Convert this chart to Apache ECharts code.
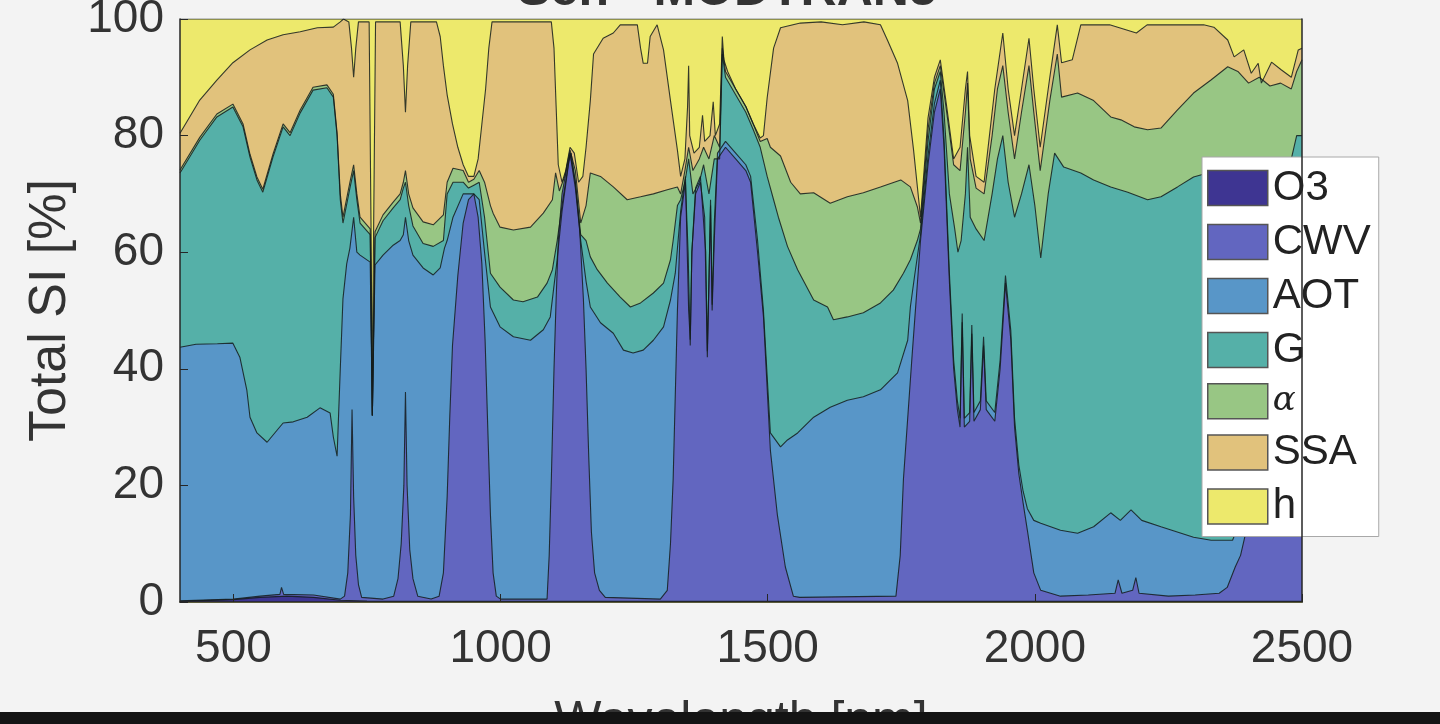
<!DOCTYPE html>
<html>
<head>
<meta charset="utf-8">
<script src="https://cdn.jsdelivr.net/npm/echarts@6/dist/echarts.min.js"></script>
<style>
  html, body { margin: 0; padding: 0; background: #f3f3f3; }
  #chart { width: 1440px; height: 724px; }
</style>
</head>
<body>
<div id="chart"></div>
<script>
// layer names, bottom to top, and their fill colours
const layerNames = ['O3', 'CWV', 'AOT', 'G', 'α', 'SSA', 'h'];
const layerColors = ['#3e3592', '#6266c0', '#5896c8', '#55b0a8', '#98c684', '#e1c27c', '#ede96c'];

const xTicks = [500, 1000, 1500, 2000, 2500];
const yTicks = [0, 20, 40, 60, 80, 100];

// cumulative upper edge of each layer: [wavelength nm, total SI %]
const topO3 = [[400,0.1],[500,0.4],[550,0.8],[600,1.0],[650,0.8],[700,0.3],[750,0.15],[800,0.1],[2500,0.1]];

const topCWV = [[400,0.2],[500,0.5],[550,1.0],[587,1.3],[590,2.5],[594,1.3],[650,1.2],[700,0.5],[708,1],[714,5],[719,15],[722,33],[725,18],[729,8],[734,3],[740,0.8],
  [780,0.5],[800,1],[808,4],[814,10],[819,20],[822,36],[825,20],[830,9],[836,4],[845,1],[870,0.5],
  [885,1],[893,5],[900,18],[905,32],[910,44],[920,56],[930,65],[940,69],[950,70],[958,66],[965,58],[971,45],[976,30],[981,15],[986,5],[992,1],[1000,0.5],
  [1087,0.5],[1091,8],[1095,21],[1100,40],[1104,52],[1108,62],[1115,70],[1125,75],[1132,77],[1140,72],[1148,64],[1155,52],[1160,40],[1165,25],[1170,12],[1176,5],[1185,2],[1196,0.8],
  [1299,0.5],[1312,2],[1318,10],[1323,21],[1331,50],[1337,66],[1346,72],[1351,60],[1355,44],[1358,60],[1365,70],[1374,72],[1382,66],[1387,42],[1390,55],[1393,68],[1396,50],[1400,62],[1406,76],
  [1421,78],[1440,76],[1459,74],[1468,72],[1481,60],[1492,49],[1505,26],[1518,15],[1533,6],[1548,1],[1560,0.8],
  [1740,1],[1748,8],[1754,21],[1770,42],[1786,62],[1800,75],[1812,84],[1823,88],[1830,78],[1840,55],[1848,40],[1855,33],[1860,30],[1864,48],[1868,30],[1878,31],[1882,46],[1886,31],
  [1898,33],[1904,44],[1909,33],[1925,31],[1935,40],[1945,54.7],[1955,45],[1962,30],[1970,22],[1978,17],[1986,12.3],[1998,5],[2011,2],[2048,1],
  [2100,1.2],[2150,1.5],[2156,3.8],[2163,1.5],[2183,2],[2189,4.2],[2195,1.5],[2250,1],[2300,1.2],[2345,1.5],[2360,2.5],[2375,6],[2385,8],[2395,12],[2400,18],[2450,28],[2500,35]];

const topAOT = [[400,43.7],[430,44.2],[470,44.3],[499,44.4],[512,42],[525,36.4],[531,31.7],[544,29],[563,27.4],[582,29.5],[593,30.7],[612,30.9],[638,31.7],[662,33.3],[681,32.4],[687,28.3],[694,25],
  [700,40],[705,52],[712,58],[718,60.7],[725,66],[731,60],[737,59.5],[756,58.3],[760,32],[765,57.8],[780,59.5],[799,61.2],[812,62],[818,63],[822,66],[828,62],[836,59.5],[855,57.3],[874,56.1],[887,57.3],[895,60.7],
  [900,62],[911,66],[930,70],[940,70],[950,70],[960,69],[970,60],[981,50.6],[999,47.2],[1024,45.5],[1056,44.9],[1080,46.7],[1093,48.9],[1099,53.5],[1105,58],[1115,67],[1130,77],[1140,71],[1150,62],[1160,55],
  [1168,50.6],[1187,47.9],[1211,46.1],[1230,43.2],[1248,42.7],[1267,43.2],[1286,44.9],[1305,47.2],[1318,51.8],[1327,56.4],[1337,67],
  [1346,73],[1352,50],[1355,45],[1358,60],[1365,71],[1374,73],[1384,60],[1387,43],[1390,55],[1393,69],[1396,51],[1400,65],[1406,77],[1421,79],[1440,77],[1459,75],[1468,73],[1481,62],[1492,50],
  [1505,29],[1524,26.6],[1537,27.8],[1556,29],[1586,31.7],[1617,33.4],[1649,34.6],[1679,35.2],[1711,36.4],[1743,39.3],[1762,44.9],[1767,50.6],[1775,56],
  [1786,63],[1800,76.5],[1812,85.5],[1823,89.5],[1830,79.5],[1840,56.5],[1848,41.5],[1855,34.5],[1860,31.5],[1864,49.5],[1868,31.5],[1878,32.5],[1882,47.5],[1886,32.5],
  [1898,34.5],[1904,45.5],[1909,34.5],[1925,32.5],[1935,41.5],[1945,56],[1955,46.5],[1962,31.5],[1970,23.5],[1978,19],[1986,16],[1998,14],[2011,13.5],
  [2048,12.3],[2080,11.8],[2110,12.9],[2142,15.3],[2160,14],[2180,15.8],[2200,14],[2236,12.9],[2297,11.1],[2330,10.6],[2370,10.6],[2385,14],[2395,18],[2400,28],[2450,40],[2500,50]];

const topG = [[400,73.6],[437,79.2],[469,83.2],[499,84.9],[518,81.5],[531,76.3],[544,72.4],[555,70.3],[574,76.3],[593,81.5],[606,80],[625,83.9],[649,87.8],[675,88.2],[687,86.6],[694,80],
  [700,69],[705,65],[718,71],[725,74],[731,69],[737,65],[756,63],[760,32],[765,62.5],[780,65.4],[799,67.6],[812,69],[818,71],[822,72],[828,68],[836,64.5],[855,61.5],[874,61],[893,62],
  [900,70],[911,72],[930,72],[940,71],[950,71.5],[960,72],[970,66],[981,56.4],[999,54],[1024,51.8],[1042,51.5],[1069,52.3],[1087,54.7],[1097,57],[1106,62],[1115,68],[1130,77],[1140,72],[1150,63],[1160,62],
  [1168,59.2],[1181,57],[1200,54.7],[1224,52.3],[1243,50.6],[1262,51.3],[1286,53],[1305,54.7],[1318,58.7],[1323,62],[1331,68],[1337,69],
  [1345,72],[1352,76],[1360,70],[1372,72],[1380,75],[1390,70],[1400,76],[1410,76],[1415,94],[1421,90],[1440,87],[1459,84],[1473,81],[1486,78],[1499,73],[1511,69],[1520,66],[1537,61],[1556,57],
  [1586,51.8],[1612,50.6],[1623,48.4],[1649,48.9],[1679,49.6],[1711,51.3],[1735,53.5],[1754,56.4],[1767,58.7],[1780,62],
  [1786,64],[1800,79],[1812,88],[1823,91],[1830,84],[1840,70],[1850,64],[1856,60],[1862,62],[1870,70],[1874,78],[1879,66],[1890,64],[1905,62],[1920,70],[1930,76],[1940,80],[1950,72],[1962,66],[1975,70],[1989,75],[2000,68],[2011,59],[2025,70],
  [2037,77],[2054,74.6],[2086,73.6],[2110,72.4],[2142,71.2],[2174,70.3],[2211,69],[2236,69.5],[2267,71.2],[2297,72.9],[2340,74],[2400,75],[2450,75],[2480,76],[2490,80],[2500,80]];

const topAlpha = [[400,74.1],[437,79.7],[469,83.7],[499,85.4],[518,82],[531,76.8],[544,72.9],[555,70.8],[574,76.8],[593,82],[606,80.5],[625,84.4],[649,88.3],[675,88.7],[687,87.1],[694,80.5],
  [700,70],[705,66],[718,72],[725,75],[731,70],[737,66],[756,64],[760,32],[765,63.5],[780,66.4],[799,68.6],[812,70],[818,72],[822,74],[828,70],[836,67.6],[855,65.2],[874,64.7],[893,66.4],
  [900,72],[911,74.4],[930,74],[940,72],[950,72.5],[960,74],[970,72],[981,68],[986,66.7],[999,64.3],[1024,63.8],[1056,64.3],[1080,66.7],[1097,69],[1103,73.6],[1110,70.5],[1120,73],[1130,77.5],[1140,74],[1150,65],[1160,68],
  [1168,73.6],[1187,73],[1211,71.2],[1237,69],[1262,69.5],[1286,70],[1312,70.7],[1331,71.2],[1337,70],
  [1345,74],[1352,78],[1360,74],[1372,76],[1380,78],[1390,76],[1400,80],[1410,78],[1415,95],[1421,91],[1440,88],[1459,85],[1473,82],[1486,79],[1499,79.5],[1505,78],[1524,76.5],[1543,72],[1561,70],
  [1586,70.2],[1617,68.4],[1649,69.5],[1679,70.2],[1711,71.2],[1749,72.4],[1767,71.2],[1780,67.8],
  [1786,65],[1800,81],[1812,89],[1823,92],[1835,84],[1848,75],[1860,74],[1870,84],[1874,89],[1879,76],[1890,71],[1905,70],[1920,80],[1930,88],[1940,92],[1950,84],[1962,76],[1975,84],[1989,92],[1998,84],[2010,74],[2028,86],
  [2042,94],[2050,86.6],[2080,87.3],[2110,86],[2142,83.2],[2161,82.7],[2186,81.5],[2211,81],[2236,81.3],[2267,84.4],[2297,87.3],[2329,89.5],[2361,91.8],[2380,91],[2400,89],[2420,90],[2440,88.5],[2460,89],[2480,88],[2490,91],[2500,93]];

const topSSA = [[400,80.4],[437,86.1],[469,89.5],[499,92.5],[531,94.7],[563,96.4],[593,97.3],[625,97.8],[657,98.5],[687,98.6],[700,99.5],[706,100],
  [716,99.5],[721,95],[725,90],[729,95],[734,99.5],[754,99.5],[758,60],[760,32],[762,60],[766,99.5],[812,99.5],[818,92],[822,84],[826,92],[832,99.5],
  [880,99.5],[887,97],[893,92],[900,87],[910,82],[920,78],[930,75],[940,73],[950,73],[958,76],[965,82],[972,88],[978,95],[984,99.5],
  [1095,99.5],[1100,95],[1104,85],[1108,75],[1115,72],[1122,74],[1130,78],[1138,77],[1146,72],[1154,73],[1160,78],[1168,86],[1174,94],[1192,96.7],[1211,97.6],[1224,99],[1256,99],[1262,95],[1267,92.4],[1275,92.4],[1280,97],[1293,99],
  [1305,94.7],[1318,86],[1331,77.5],[1337,73],[1345,76],[1350,85],[1352,92],[1354,80],[1362,77],[1372,78],[1378,83.5],[1382,79],[1392,80],[1398,85.8],[1402,80],[1410,82],[1415,97],[1418,93],[1425,91],
  [1440,88],[1459,85],[1473,82],[1486,79.6],[1492,80],[1499,86.5],[1511,95],[1524,98.5],[1561,99.3],[1600,99.5],[1640,99],[1680,99.5],[1711,99],[1724,96.4],[1743,92.4],[1762,86],[1773,77.5],
  [1786,66],[1800,83],[1812,90],[1823,93],[1835,85],[1848,76],[1860,78],[1870,88],[1874,91],[1878,80],[1890,73],[1905,72],[1915,80],[1925,88],[1940,97.6],[1950,88],[1962,80],[1975,88],[1989,96.7],[1998,88],[2010,78],[2028,90],[2042,99],
  [2050,92.5],[2070,93],[2086,99],[2140,99],[2190,97.6],[2210,99],[2316,99],[2335,98.6],[2361,96.4],[2373,93.5],[2391,94.7],[2405,90.7],[2418,92.4],[2424,89],[2443,92.6],[2461,91.3],[2480,90],[2493,94.7],[2500,95]];

const topH = [[400,100],[2500,100]];

const layerTops = [topO3, topCWV, topAOT, topG, topAlpha, topSSA, topH];

const chart = echarts.init(document.getElementById('chart'));

// each layer is filled from 0 up to its cumulative edge; upper layers are drawn first
const series = [];
for (let i = layerNames.length - 1; i >= 0; i--) {
  series.push({
    name: layerNames[i],
    type: 'line',
    data: layerTops[i],
    showSymbol: false,
    symbol: 'none',
    smooth: false,
    color: layerColors[i],
    lineStyle: { color: 'rgba(20,28,28,0.85)', width: 1.1 },
    areaStyle: { color: layerColors[i], opacity: 1, origin: 'start' },
    itemStyle: { color: layerColors[i] }
  });
}

const axisFont = { fontFamily: 'Liberation Sans', fontSize: 46, color: '#333' };

chart.setOption({
  animation: false,
  backgroundColor: '#f3f3f3',
  grid: { left: 180, right: 138, top: 19, bottom: 122, outerBoundsMode: 'none' },
  graphic: [
    {
      type: 'text', x: 727, y: 16, z: 50,
      style: { text: 'Sen - MODTRAN5', align: 'center', verticalAlign: 'bottom',
               font: 'bold 50px "Liberation Sans"', fill: '#333' }
    },
    {
      type: 'rect', z: 100,
      shape: { x: 0, y: 712, width: 1440, height: 12 },
      style: { fill: '#141414' }
    }
  ],
  legend: {
    data: layerNames,
    orient: 'vertical',
    left: 1202,
    top: 157,
    padding: [10, 8, 9, 5],
    itemWidth: 60,
    itemHeight: 35,
    itemGap: 12,
    icon: 'rect',
    backgroundColor: '#ffffff',
    borderColor: '#a8a8a8',
    borderWidth: 1,
    itemStyle: { borderColor: '#555', borderWidth: 1.5 },
    selectedMode: false,
    formatter: function (name) { return name === 'α' ? '{a|α}' : name; },
    textStyle: {
      fontFamily: 'Liberation Sans', fontSize: 42, color: '#222',
      rich: { a: { fontFamily: 'DejaVu Serif', fontStyle: 'italic', fontSize: 34, color: '#222' } }
    }
  },
  xAxis: [
    {
      type: 'value', min: 400, max: 2500, z: 10,
      name: 'Wavelength [nm]', nameLocation: 'middle', nameGap: 95,
      nameTextStyle: { fontFamily: 'Liberation Sans', fontSize: 50, color: '#333' },
      axisLine: { show: true, lineStyle: { color: '#262626', width: 1.5 } },
      axisTick: { show: true, inside: true, length: 8, customValues: xTicks, lineStyle: { color: '#262626' } },
      axisLabel: Object.assign({ margin: 24, customValues: xTicks, formatter: function (v) { return String(v); } }, axisFont),
      splitLine: { show: false }
    },
    {
      type: 'value', min: 400, max: 2500, position: 'top', z: 10,
      axisLine: { show: true, lineStyle: { color: '#5a5a3a', width: 1 } },
      axisTick: { show: false }, axisLabel: { show: false }, splitLine: { show: false }
    }
  ],
  yAxis: [
    {
      type: 'value', min: 0, max: 100, interval: 20, z: 10,
      name: 'Total SI [%]', nameLocation: 'middle', nameGap: 98, nameRotate: 90,
      nameTextStyle: { fontFamily: 'Liberation Sans', fontSize: 52, color: '#333' },
      axisLine: { show: true, lineStyle: { color: '#262626', width: 1.5 } },
      axisTick: { show: true, inside: true, length: 8, lineStyle: { color: '#262626' } },
      axisLabel: Object.assign({ margin: 16, customValues: yTicks }, axisFont),
      splitLine: { show: false }
    },
    {
      type: 'value', min: 0, max: 100, position: 'right', z: 10,
      axisLine: { show: true, lineStyle: { color: '#262626', width: 1.5 } },
      axisTick: { show: false }, axisLabel: { show: false }, splitLine: { show: false }
    }
  ],
  series: series
});
</script>
</body>
</html>
